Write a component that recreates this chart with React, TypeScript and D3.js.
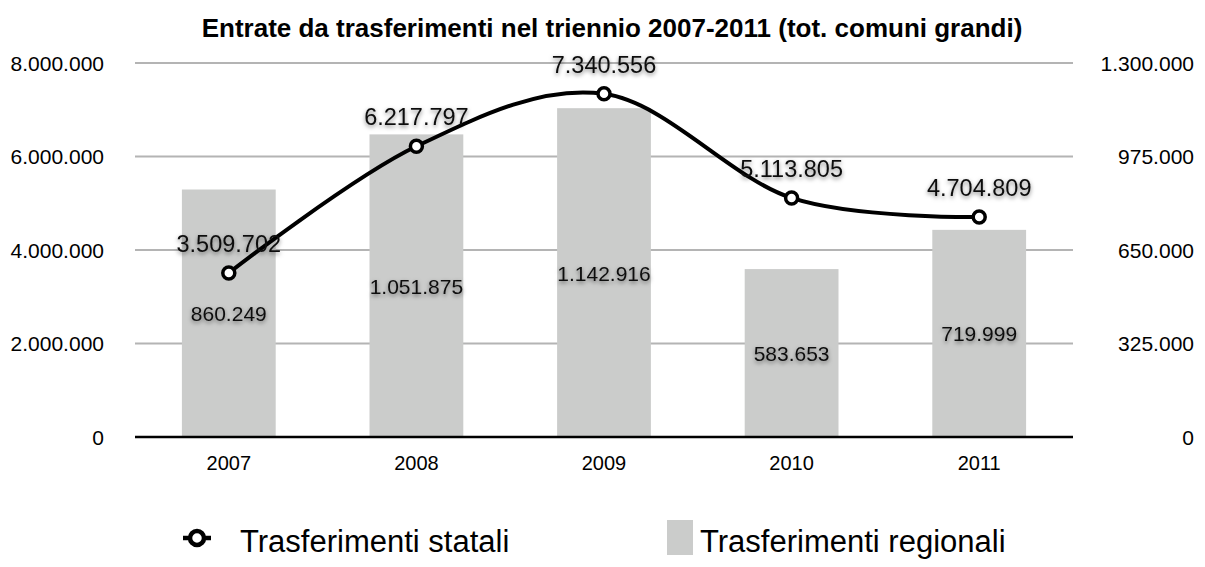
import React from "react";
import * as d3 from "d3";

const years = ["2007", "2008", "2009", "2010", "2011"];
const statali = [3509702, 6217797, 7340556, 5113805, 4704809];
const regionali = [860249, 1051875, 1142916, 583653, 719999];
const leftTicks = [0, 2000000, 4000000, 6000000, 8000000];
const rightTicks = [0, 325000, 650000, 975000, 1300000];
const title = "Entrate da trasferimenti nel triennio 2007-2011 (tot. comuni grandi)";
const seriesNames = ["Trasferimenti statali", "Trasferimenti regionali"];

const W = 1205;
const H = 567;
const M = { left: 135, right: 1073, top: 63, bottom: 437 };
const FONT = "'Liberation Sans', Arial, Helvetica, sans-serif";
const BAR = "#cbcccb";
const GRID = "#b4b4b4";

const fmt = (v: number) => {
  const s = Math.round(v).toString();
  return s.replace(/\B(?=(\d{3})+(?!\d))/g, ".");
};

export default function App() {
  const x = d3
    .scaleBand<string>()
    .domain(years)
    .range([M.left, M.right])
    .paddingInner(0.5)
    .paddingOuter(0.25);
  const yL = d3.scaleLinear().domain([0, 8000000]).range([M.bottom, M.top]);
  const yR = d3.scaleLinear().domain([0, 1300000]).range([M.bottom, M.top]);
  const cx = (y: string) => (x(y) as number) + x.bandwidth() / 2;

  const pts: [number, number][] = years.map((y, i) => [cx(y), yL(statali[i])]);
  const line = d3.line().curve(d3.curveCatmullRom.alpha(0))(pts) || "";

  return (
    <svg width={W} height={H} style={{ display: "block", position: "absolute", left: 0, top: 0 }}>
      <defs>
        <filter id="shadow" x="-20%" y="-50%" width="140%" height="200%">
          <feDropShadow dx="0" dy="2" stdDeviation="2.2" floodColor="#000" floodOpacity="0.5" />
        </filter>
      </defs>
      <rect x={0} y={0} width={W} height={H} fill="#fff" />
      <text
        x={612}
        y={37}
        textAnchor="middle"
        fontFamily={FONT}
        fontWeight="bold"
        fontSize={26}
        fill="#000"
      >
        {title}
      </text>

      {/* gridlines */}
      {leftTicks
        .filter((t) => t !== 0)
        .map((t) => (
          <line key={t} x1={M.left} x2={M.right} y1={yL(t)} y2={yL(t)} stroke={GRID} strokeWidth={2} />
        ))}

      {/* left tick labels */}
      {leftTicks.map((t) => (
        <text key={"l" + t} x={104} y={yL(t) + 7.5} textAnchor="end" fontFamily={FONT} fontSize={21} fill="#000">
          {fmt(t)}
        </text>
      ))}
      {/* right tick labels */}
      {rightTicks.map((t) => (
        <text key={"r" + t} x={1194} y={yR(t) + 7.5} textAnchor="end" fontFamily={FONT} fontSize={21} fill="#000">
          {fmt(t)}
        </text>
      ))}

      {/* bars */}
      {years.map((y, i) => (
        <rect
          key={"b" + y}
          x={x(y)}
          y={yR(regionali[i])}
          width={x.bandwidth()}
          height={M.bottom - yR(regionali[i])}
          fill={BAR}
        />
      ))}

      {/* baseline */}
      <line x1={M.left} x2={M.right} y1={M.bottom} y2={M.bottom} stroke="#000" strokeWidth={2.5} />

      {/* x labels */}
      {years.map((y) => (
        <text key={"x" + y} x={cx(y)} y={M.bottom + 33} textAnchor="middle" fontFamily={FONT} fontSize={20} fill="#000">
          {y}
        </text>
      ))}

      {/* line */}
      <path d={line} fill="none" stroke="#000" strokeWidth={4} />
      {pts.map((p, i) => (
        <circle key={"c" + i} cx={p[0]} cy={p[1]} r={6} fill="#fff" stroke="#000" strokeWidth={3.5} />
      ))}

      {/* bar labels */}
      {years.map((y, i) => (
        <text
          key={"bl" + y}
          x={cx(y)}
          y={(yR(regionali[i]) + M.bottom) / 2 + 8}
          textAnchor="middle"
          fontFamily={FONT}
          fontSize={21}
          fill="#111"
          filter="url(#shadow)"
        >
          {fmt(regionali[i])}
        </text>
      ))}

      {/* line labels */}
      {pts.map((p, i) => (
        <text
          key={"ll" + i}
          x={p[0]}
          y={p[1] - 21}
          textAnchor="middle"
          fontFamily={FONT}
          fontSize={23.5}
          fill="#111"
          filter="url(#shadow)"
        >
          {fmt(statali[i])}
        </text>
      ))}

      {/* legend */}
      <g>
        <line x1={183} x2={211} y1={538} y2={538} stroke="#000" strokeWidth={4.5} />
        <circle cx={197} cy={538} r={7} fill="#fff" stroke="#000" strokeWidth={4.5} />
        <text x={240} y={552} fontFamily={FONT} fontSize={31} fill="#000">
          {seriesNames[0]}
        </text>
        <rect x={667} y={520} width={26} height={35} fill={BAR} />
        <text x={700} y={552} fontFamily={FONT} fontSize={31} fill="#000">
          {seriesNames[1]}
        </text>
      </g>
    </svg>
  );
}
